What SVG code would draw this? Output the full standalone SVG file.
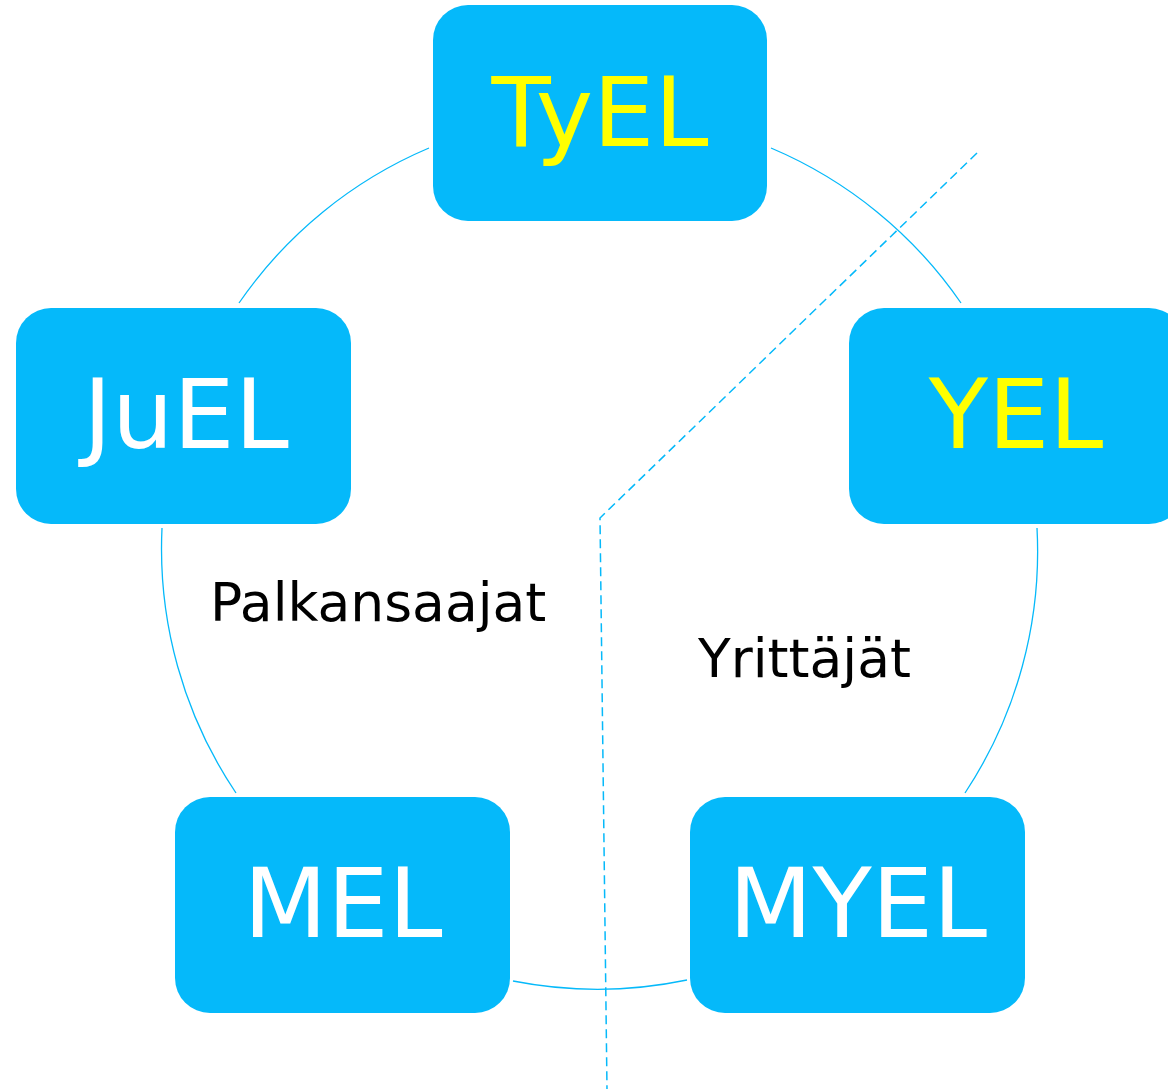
<svg xmlns="http://www.w3.org/2000/svg" width="1168" height="1089" viewBox="0 0 1168 1089">
<style>
.box{fill:#05B9FA;}
.lbl{font-family:"DejaVu Sans",Verdana,sans-serif;font-size:97px;text-anchor:middle;}
.y{fill:#FFFF00;}
.w{fill:#FFFFFF;}
.arc{fill:none;stroke:#05B9FA;stroke-width:1.3;}
.dash{fill:none;stroke:#05B9FA;stroke-width:1.5;stroke-dasharray:9,5;}
.cap{font-family:"DejaVu Sans",Verdana,sans-serif;font-size:53.5px;fill:#000;}
</style>
<rect width="1168" height="1089" fill="#fff"/>
<g id="connectors">
<path class="arc" d="M771,148 A438,438 0 0 1 961,303"/>
<path class="arc" d="M1037,528 A438,438 0 0 1 965,793"/>
<path class="arc" d="M687,980 A438,438 0 0 1 513,981"/>
<path class="arc" d="M236,793 A438,438 0 0 1 162,528"/>
<path class="arc" d="M239,303 A438,438 0 0 1 429,148"/>
<path class="dash" d="M977,153 L600,518 L607,1089"/>
</g>
<g id="TyEL"><rect class="box" x="433" y="5" width="334" height="216" rx="35"/><text class="lbl y" x="600" y="146">TyEL</text></g>
<g id="JuEL"><rect class="box" x="16" y="308" width="335" height="216" rx="35"/><text class="lbl w" x="186" y="448">JuEL</text></g>
<g id="YEL"><rect class="box" x="849" y="308" width="335" height="216" rx="35"/><text class="lbl y" x="1016" y="448">YEL</text></g>
<g id="MEL"><rect class="box" x="175" y="797" width="335" height="216" rx="35"/><text class="lbl w" x="343" y="937">MEL</text></g>
<g id="MYEL"><rect class="box" x="690" y="797" width="335" height="216" rx="35"/><text class="lbl w" x="858" y="937">MYEL</text></g>
<g id="labels">
<text class="cap" x="210" y="621">Palkansaajat</text>
<text class="cap" x="698" y="677">Yrittäjät</text>
</g>
</svg>
